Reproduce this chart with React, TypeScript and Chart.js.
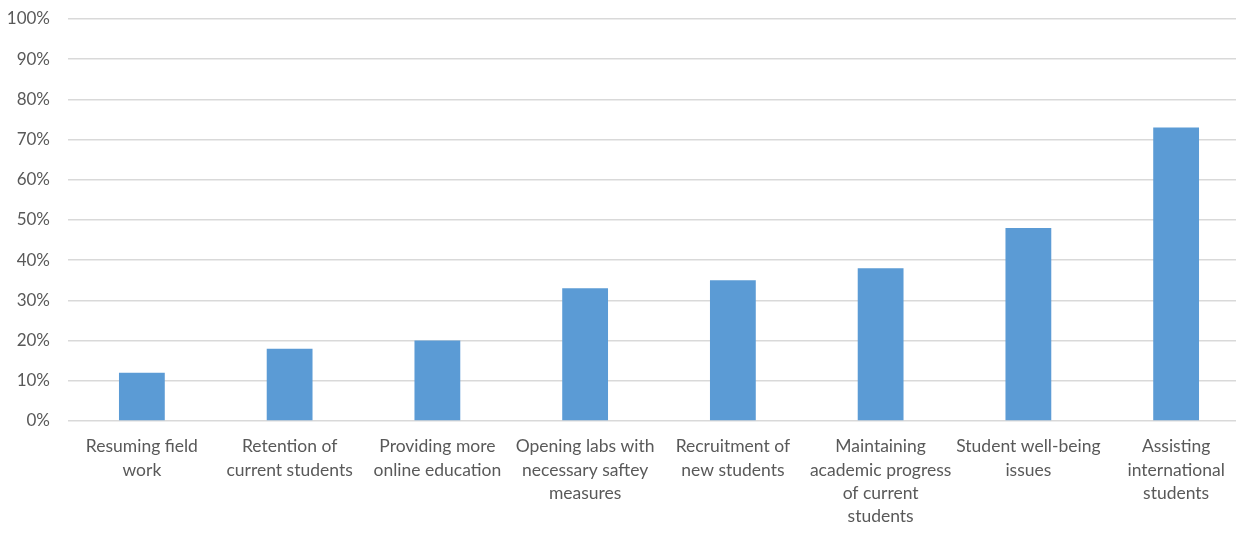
import React, { useEffect, useRef } from "react";
import { Chart, registerables } from "chart.js";

Chart.register(...registerables);

const categories: string[][] = [
  ["Resuming field", "work"],
  ["Retention of", "current students"],
  ["Providing more", "online education"],
  ["Opening labs with", "necessary saftey", "measures"],
  ["Recruitment of", "new students"],
  ["Maintaining", "academic progress", "of current", "students"],
  ["Student well-being", "issues"],
  ["Assisting", "international", "students"],
];
const values: number[] = [12, 18, 20, 33, 35, 38, 48, 73];
const yTicks: number[] = [0, 10, 20, 30, 40, 50, 60, 70, 80, 90, 100];

const FONT = "Lato, 'Open Sans', sans-serif";

export default function App() {
  const ref = useRef<HTMLCanvasElement | null>(null);
  useEffect(() => {
    document.body.style.margin = "0";
    document.body.style.overflow = "hidden";
    const chart = new Chart(ref.current!, {
      type: "bar",
      data: {
        labels: categories,
        datasets: [
          {
            data: values,
            backgroundColor: "#5B9BD5",
            borderWidth: 0,
            barPercentage: 0.62,
            categoryPercentage: 0.5,
          },
        ],
      },
      options: {
        animation: false,
        responsive: false,
        maintainAspectRatio: false,
        layout: { padding: { top: 19, right: 0, left: 0, bottom: 0 } },
        plugins: { legend: { display: false }, tooltip: { enabled: false } },
        scales: {
          x: {
            grid: { display: false },
            border: { display: false },
            ticks: {
              color: "#595959",
              font: { family: FONT, size: 17.5, lineHeight: 1.33 },
              maxRotation: 0,
              autoSkip: false,
              padding: 6,
            },
            afterFit: (s: any) => {
              s.height = 115;
            },
          },
          y: {
            min: 0,
            max: 100,
            afterBuildTicks: (s: any) => {
              s.ticks = yTicks.map((v) => ({ value: v }));
            },
            grid: { color: "#D9D9D9", lineWidth: 1.5, drawTicks: false },
            border: { display: false },
            ticks: {
              color: "#595959",
              font: { family: FONT, size: 17 },
              padding: 18,
              callback: (v: any) => v + "%",
            },
            afterFit: (s: any) => {
              s.width = 68;
              s.paddingTop = 0;
              s.paddingBottom = 0;
            },
          },
        },
      },
    });
    return () => chart.destroy();
  }, []);
  return (
    <div style={{ position: "absolute", left: 0, top: 0, width: 1236, height: 536, overflow: "hidden" }}>
      <canvas ref={ref} width={1250} height={536} style={{ display: "block" }} />
    </div>
  );
}
